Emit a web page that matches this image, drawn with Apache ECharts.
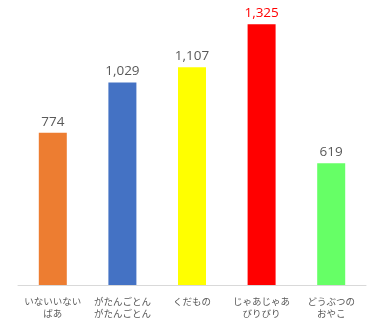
<!DOCTYPE html>
<html><head><meta charset="utf-8">
<script src="https://cdn.jsdelivr.net/npm/echarts@6/dist/echarts.min.js"></script>
<style>html,body{margin:0;padding:0;background:#fff}#c{width:372px;height:319px}</style>
</head><body><div id="c"></div>
<script>
var categories = ['いないいない\nばあ', 'がたんごとん\nがたんごとん', 'くだもの', 'じゃあじゃあ\nびりびり', 'どうぶつの\nおやこ'];
var values = [774, 1029, 1107, 1325, 619];
var colors = ['#ED7D31', '#4472C4', '#FFFF00', '#FF0000', '#66FF66'];
var labelColors = ['#595959', '#595959', '#595959', '#FF0000', '#595959'];

var chart = echarts.init(document.getElementById('c'));
chart.setOption({
  animation: false,
  grid: {left: 18, right: 6, top: 9.5, bottom: 28.3, containLabel: false},
  xAxis: {
    type: 'category', data: categories,
    axisLine: {lineStyle: {color: '#D9D9D9', width: 1}},
    axisTick: {show: false},
    axisLabel: {color: '#595959', fontSize: 9.5, margin: 10, lineHeight: 12, interval: 0,
      fontFamily: '"Noto Sans CJK JP", sans-serif'}
  },
  yAxis: {type: 'value', min: 0, max: 1400, show: false, splitLine: {show: false}},
  series: [{
    type: 'bar', barWidth: 28,
    data: values.map(function(v, i){
      return {value: v, itemStyle: {color: colors[i]},
        label: {color: labelColors[i]}};
    }),
    label: {show: true, position: 'top', distance: 4, fontSize: 13.5,
      fontFamily: '"Open Sans", sans-serif',
      formatter: function(p){ return p.value.toLocaleString('en-US'); }}
  }]
});
</script></body></html>
